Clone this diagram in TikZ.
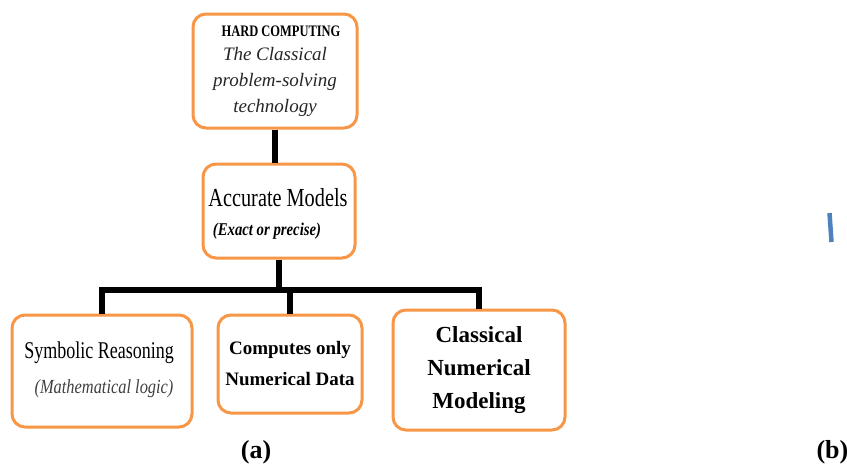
\documentclass[tikz,border=0pt]{standalone}
\usepackage{fontspec}
\setmainfont{Liberation Serif}
\newfontfamily\condserif[FakeStretch=0.82]{Liberation Serif}
\newfontfamily\narrowserif[FakeStretch=0.75]{Liberation Serif}
\newfontfamily\accserif[FakeStretch=0.78]{Liberation Serif}
\newfontfamily\hardserif[FakeStretch=0.78]{Liberation Serif}
\definecolor{boxorange}{HTML}{F79646}
\definecolor{markblue}{HTML}{4F81BD}
\begin{document}
\begin{tikzpicture}[x=1pt,y=-1pt,
  obox/.style={draw=boxorange,line width=3pt,rounded corners=13pt,fill=white,
    inner sep=0pt,align=center,text=black},
  link/.style={line width=6pt,black}]
\useasboundingbox (0,0) rectangle (847,466);
\clip (0,0) rectangle (847,466);
% boxes
\node[obox,minimum width=164pt,minimum height=114pt] (top) at (275,71) {};
\node[font=\hardserif\bfseries\fontsize{16}{18}\selectfont] (toptitle) at (281,31) {HARD COMPUTING};
\node[font=\itshape\fontsize{19}{26}\selectfont,align=center,text=black!85] (topsub) at (275,82)
  {The Classical\\problem-solving\\technology};
\node[obox,minimum width=152pt,minimum height=94pt] (acc) at (279,211) {};
\node[font=\accserif\fontsize{26}{28}\selectfont] (acct) at (278,198) {Accurate Models};
\node[font=\condserif\bfseries\itshape\fontsize{18}{20}\selectfont] (accs) at (267,231) {(Exact or precise)};
\node[obox,minimum width=180pt,minimum height=112pt] (sym) at (102,371) {};
\node[font=\narrowserif\fontsize{24}{26}\selectfont] (symt) at (99,353) {Symbolic Reasoning};
\node[font=\condserif\itshape\fontsize{20}{24}\selectfont,text=black!75] (syms) at (104,389) {(Mathematical logic)};
\node[obox,minimum width=144pt,minimum height=98pt,
  font=\fontsize{19}{31}\selectfont\bfseries] (mid) at (290,364)
  {Computes only\\Numerical Data};
\node[obox,minimum width=172pt,minimum height=120pt,
  font=\fontsize{23}{33}\selectfont\bfseries] (num) at (479,370)
  {Classical\\Numerical\\Modeling};
% connectors
\coordinate (bus) at (0,290);
\draw[link] (top.south) -- (top.south |- acc.north);
\draw[link] (acc.south) -- (acc.south |- bus);
\draw[link,line join=miter] (sym.north) |- (num.north |- bus) -- (num.north);
\draw[link] (mid.north) -- (mid.north |- bus);
% captions
\node[font=\bfseries\fontsize{26}{28}\selectfont] (capa) at (256,452) {(a)};
\node[font=\bfseries\fontsize{26}{28}\selectfont,anchor=west] (capb) at (813,452) {(b)};
% blue mark
\coordinate (bm1) at (829.5,213);
\coordinate (bm2) at (831.5,242);
\draw[markblue,line width=4.5pt] (bm1) -- (bm2);
\end{tikzpicture}
\end{document}
